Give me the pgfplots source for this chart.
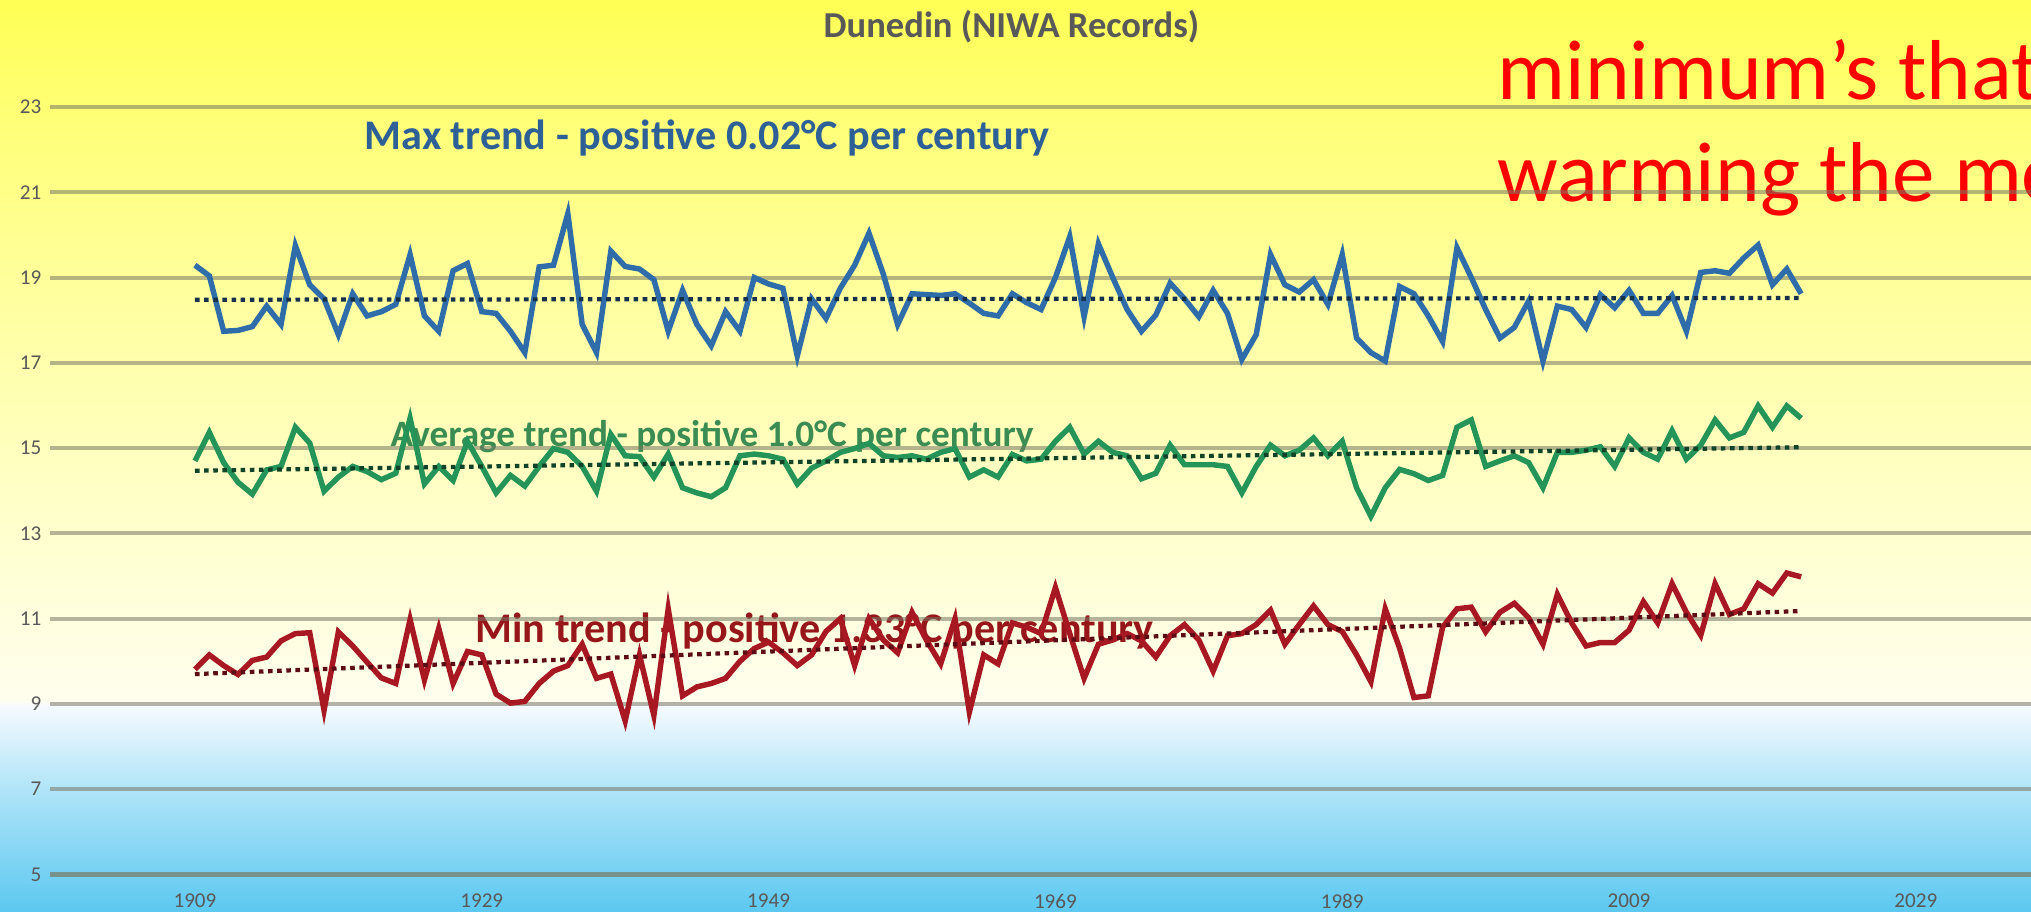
\documentclass[border=0pt]{standalone}
\usepackage{pgfplots}
\pgfplotsset{compat=1.18}
\usepackage{pgfplotstable}
\usepackage{fontspec}
\setmainfont{Carlito}
\definecolor{maxc}{RGB}{46,108,170}
\definecolor{avgc}{RGB}{36,148,88}
\definecolor{minc}{RGB}{168,24,34}
\definecolor{maxt}{RGB}{44,96,150}
\definecolor{avgt}{RGB}{58,140,82}
\definecolor{mint}{RGB}{150,22,26}
\definecolor{lbl}{RGB}{89,89,89}
\definecolor{grd}{RGB}{120,120,100}
\definecolor{b0}{RGB}{255,255,85}
\definecolor{b1}{RGB}{255,255,120}
\definecolor{b2}{RGB}{255,255,160}
\definecolor{b3}{RGB}{255,255,200}
\definecolor{b4}{RGB}{255,254,238}
\definecolor{b5}{RGB}{245,250,255}
\definecolor{b6}{RGB}{175,228,248}
\definecolor{b7}{RGB}{92,200,240}
\pgfplotstableread{
year max avg min
1909 19.29 14.70 9.81
1910 19.04 15.37 10.15
1911 17.74 14.66 9.90
1912 17.76 14.20 9.69
1913 17.85 13.92 10.02
1914 18.33 14.49 10.10
1915 17.90 14.57 10.48
1916 19.75 15.49 10.65
1917 18.83 15.12 10.67
1918 18.50 13.99 8.85
1919 17.66 14.32 10.69
1920 18.62 14.57 10.36
1921 18.10 14.45 9.98
1922 18.20 14.26 9.61
1923 18.37 14.41 9.48
1924 19.54 15.70 10.98
1925 18.10 14.16 9.56
1926 17.74 14.57 10.77
1927 19.16 14.24 9.48
1928 19.33 15.16 10.23
1929 18.20 14.57 10.15
1930 18.16 13.95 9.23
1931 17.74 14.36 9.02
1932 17.24 14.11 9.06
1933 19.25 14.57 9.48
1934 19.29 14.99 9.77
1935 20.50 14.90 9.90
1936 17.90 14.57 10.40
1937 17.24 13.99 9.60
1938 19.62 15.32 9.70
1939 19.26 14.82 8.60
1940 19.20 14.80 10.15
1941 18.95 14.32 8.73
1942 17.74 14.86 11.23
1943 18.70 14.07 9.19
1944 17.90 13.95 9.40
1945 17.40 13.86 9.48
1946 18.20 14.07 9.60
1947 17.74 14.82 10.00
1948 19.00 14.86 10.30
1949 18.85 14.82 10.45
1950 18.75 14.74 10.20
1951 17.16 14.16 9.90
1952 18.50 14.53 10.15
1953 18.04 14.70 10.70
1954 18.75 14.90 11.00
1955 19.29 14.99 9.90
1956 20.04 15.11 11.00
1957 19.08 14.82 10.50
1958 17.90 14.78 10.20
1959 18.62 14.82 11.15
1960 18.60 14.74 10.50
1961 18.58 14.90 9.94
1962 18.62 14.99 11.00
1963 18.40 14.32 8.81
1964 18.16 14.49 10.15
1965 18.10 14.32 9.94
1966 18.62 14.85 10.90
1967 18.41 14.70 10.80
1968 18.25 14.74 10.65
1969 19.00 15.16 11.73
1970 19.96 15.49 10.65
1971 18.08 14.86 9.60
1972 19.79 15.16 10.40
1973 19.00 14.90 10.50
1974 18.25 14.82 10.65
1975 17.74 14.28 10.48
1976 18.12 14.41 10.10
1977 18.87 15.07 10.60
1978 18.50 14.61 10.86
1979 18.08 14.61 10.50
1980 18.70 14.61 9.77
1981 18.16 14.57 10.60
1982 17.08 13.95 10.65
1983 17.66 14.57 10.86
1984 19.54 15.07 11.20
1985 18.83 14.82 10.40
1986 18.66 14.95 10.86
1987 18.95 15.24 11.30
1988 18.37 14.82 10.86
1989 19.54 15.16 10.70
1990 17.58 14.07 10.15
1991 17.24 13.40 9.52
1992 17.04 14.07 11.23
1993 18.79 14.50 10.31
1994 18.62 14.40 9.15
1995 18.10 14.24 9.19
1996 17.50 14.36 10.80
1997 19.70 15.49 11.23
1998 19.00 15.66 11.27
1999 18.25 14.57 10.69
2000 17.58 14.70 11.15
2001 17.83 14.82 11.36
2002 18.45 14.66 11.02
2003 17.04 14.07 10.40
2004 18.33 14.90 11.57
2005 18.25 14.90 10.90
2006 17.83 14.95 10.36
2007 18.60 15.03 10.44
2008 18.29 14.57 10.44
2009 18.70 15.24 10.73
2010 18.16 14.90 11.40
2011 18.16 14.74 10.90
2012 18.58 15.41 11.82
2013 17.74 14.74 11.15
2014 19.12 15.07 10.61
2015 19.16 15.66 11.82
2016 19.10 15.24 11.10
2017 19.46 15.37 11.23
2018 19.76 15.99 11.82
2019 18.83 15.49 11.60
2020 19.20 15.99 12.07
2021 18.62 15.70 11.98
}\data
\begin{document}
\begin{tikzpicture}[x=1cm,y=1cm]
% background gradient
\shade[top color=b0, bottom color=b1] (0,7.91) rectangle (20.31,9.12);
\shade[top color=b1, bottom color=b2] (0,6.11) rectangle (20.31,7.92);
\shade[top color=b2, bottom color=b3] (0,4.11) rectangle (20.31,6.12);
\shade[top color=b3, bottom color=b4] (0,2.11) rectangle (20.31,4.12);
\shade[top color=b4, bottom color=b5] (0,2.05) rectangle (20.31,2.12);
\shade[top color=b5, bottom color=b6] (0,1.21) rectangle (20.31,2.06);
\shade[top color=b6, bottom color=b7] (0,0) rectangle (20.31,1.22);
% texts
\node[anchor=base west, inner sep=0pt, text=red, font=\fontsize{24.2}{29}\selectfont] at (14.97,8.12) {minimum’s that};
\node[anchor=base west, inner sep=0pt, text=red, font=\fontsize{24.2}{29}\selectfont] at (14.97,7.10) {warming the mo};
\node[anchor=base west, inner sep=0pt, text=lbl, font=\fontsize{10.4}{12}\selectfont\bfseries] at (8.23,8.74) {Dunedin (NIWA Records)};
\node[anchor=base west, inner sep=0pt, text=maxt, font=\fontsize{12}{14}\selectfont\bfseries] at (3.64,7.62) {Max trend - positive 0.02°C per century};
\node[anchor=base west, inner sep=0pt, text=avgt, font=\fontsize{10.6}{13}\selectfont\bfseries] at (3.90,4.65) {Average trend - positive 1.0°C per century};
\node[anchor=base west, inner sep=0pt, text=mint, font=\fontsize{12}{14}\selectfont\bfseries] at (4.75,2.69) {Min trend - positive 1.33°C per century};
\begin{axis}[
  at={(0.5cm,0.375cm)}, anchor=south west,
  scale only axis, width=19.81cm, height=7.675cm,
  xmin=1898.89, xmax=2037.03, ymin=5, ymax=23,
  axis line style={draw=none},
  major tick length=0pt,
  xtick={1909,1929,1949,1969,1989,2009,2029},
  xticklabels={1909,1929,1949,1969,1989,2009,2029},
  ytick={7,9,11,13,15,17,19,21,23},
  yticklabels={7,9,11,13,15,17,19,21,23},
  extra y ticks={5},
  extra y tick labels={5},
  extra y tick style={major grid style={line width=1.7pt, color=grd, opacity=0.7}},
  ymajorgrids=true,
  major grid style={line width=1.15pt, color=grd, opacity=0.55},
  ticklabel style={font=\fontsize{6}{7}\selectfont, text=lbl},
  yticklabel style={anchor=east, inner sep=0pt, xshift=-0.08cm},
  xticklabel style={anchor=north, inner sep=0pt, yshift=-0.19cm},
  clip=false,
]
\addplot[maxc, line width=1.55pt] table[x=year,y=max]{\data};
\addplot[avgc, line width=1.55pt] table[x=year,y=avg]{\data};
\addplot[minc, line width=1.55pt] table[x=year,y=min]{\data};
\addplot[maxc!45!black, line width=1.2pt, dash pattern=on 1.3pt off 1.3pt] coordinates {(1909,18.48) (2021,18.52)};
\addplot[avgc!45!black, line width=1.2pt, dash pattern=on 1.3pt off 1.3pt] coordinates {(1909,14.47) (2021,15.02)};
\addplot[minc!55!black, line width=1.2pt, dash pattern=on 1.3pt off 1.3pt] coordinates {(1909,9.70) (2021,11.18)};
\end{axis}
\pgfresetboundingbox
\useasboundingbox (0,0) rectangle (20.31,9.12);
\end{tikzpicture}
\end{document}
